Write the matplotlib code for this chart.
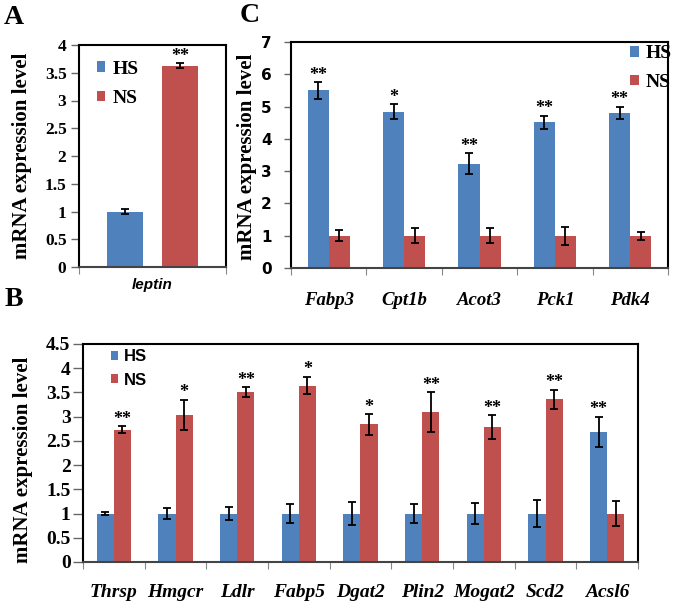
import matplotlib
matplotlib.use('Agg')
import matplotlib.pyplot as plt
import numpy as np

# panel A
a_genes = ['leptin']
a_hs = [1.0]
a_hs_err = [0.05]
a_ns = [3.63]
a_ns_err = [0.04]
a_marks = ['**']

# panel C
c_genes = ['Fabp3', 'Cpt1b', 'Acot3', 'Pck1', 'Pdk4']
c_hs = [5.50, 4.84, 3.23, 4.51, 4.80]
c_hs_err = [0.26, 0.24, 0.32, 0.20, 0.19]
c_ns = [1.0, 1.0, 1.0, 1.0, 1.0]
c_ns_err = [0.17, 0.24, 0.23, 0.28, 0.12]
c_marks = ['**', '*', '**', '**', '**']

# panel B
b_genes = ['Thrsp', 'Hmgcr', 'Ldlr', 'Fabp5', 'Dgat2', 'Plin2', 'Mogat2', 'Scd2', 'Acsl6']
b_hs = [1.0, 1.0, 1.0, 1.0, 1.0, 1.0, 1.0, 1.0, 2.69]
b_hs_err = [0.04, 0.12, 0.13, 0.20, 0.23, 0.19, 0.21, 0.28, 0.31]
b_ns = [2.73, 3.04, 3.51, 3.64, 2.84, 3.10, 2.78, 3.36, 1.0]
b_ns_err = [0.07, 0.31, 0.10, 0.18, 0.21, 0.41, 0.25, 0.20, 0.25]
b_marks = ['**', '*', '**', '*', '*', '**', '**', '**', '**']

BLUE = '#4F81BD'
RED = '#C0504D'
SERIF = 'Liberation Serif'
SANS = 'Liberation Sans'

W, H = 675, 604
fig = plt.figure(figsize=(W / 100, H / 100), dpi=100)


def px_axes(x0, y0, x1, y1):
    return fig.add_axes([x0 / W, 1 - y1 / H, (x1 - x0) / W, (y1 - y0) / H])


def style_axes(ax, n, ymax, ystep, ylabels, tickfont, ticksize, tlen, tpad):
    ax.set_xlim(-0.5, n - 0.5)
    ax.set_ylim(0, ymax)
    for s in ax.spines.values():
        s.set_linewidth(1.5)
        s.set_color('black')
    ax.spines['bottom'].set_color('#444444')
    ax.set_xticks(np.arange(n + 1) - 0.5, labels=[''] * (n + 1))
    ax.set_yticks(np.arange(len(ylabels)) * ystep, labels=ylabels,
                  family=tickfont, fontweight='bold', fontsize=ticksize)
    ax.tick_params(axis='x', which='major', length=5, direction='out', color='#888888')
    ax.tick_params(axis='y', length=tlen, direction='out', width=1, pad=tpad, color='#666666')


def draw_bars(ax, genes, hs, hs_err, ns, ns_err, marks, width, offset, star_on,
              xfont, xsize, xpad):
    x = np.arange(len(genes))
    ekw = dict(ecolor='black', elinewidth=1.3, capsize=3, capthick=1.3)
    ax.bar(x - offset, hs, width, yerr=hs_err, color=BLUE, error_kw=ekw, label='HS', zorder=2)
    ax.bar(x + offset, ns, width, yerr=ns_err, color=RED, error_kw=ekw, label='NS', zorder=2)
    for i, m in enumerate(marks):
        if star_on[i] == 'hs':
            xs, top = x[i] - offset, hs[i] + hs_err[i]
        else:
            xs, top = x[i] + offset, ns[i] + ns_err[i]
        ax.annotate(m, (xs, top), xytext=(0, 5), textcoords='offset points',
                    ha='center', va='center', fontsize=13, fontweight='bold', family=SERIF)
    ax.set_xticks(x, labels=genes, minor=True, family=xfont, fontweight='bold',
                  style='italic', fontsize=xsize)
    ax.tick_params(axis='x', which='minor', length=0, pad=xpad)


leg_kw = dict(frameon=False, handlelength=0.45, handleheight=0.45, handletextpad=0.35,
              borderaxespad=0, borderpad=0)

# ---- A ----
axA = px_axes(79, 45, 226, 267)
style_axes(axA, 1, 4, 0.5, ['0', '0.5', '1', '1.5', '2', '2.5', '3', '3.5', '4'],
           SERIF, 12.5, 6, 3)
draw_bars(axA, a_genes, a_hs, a_hs_err, a_ns, a_ns_err, a_marks, 0.245, 0.187, ['ns'],
          SANS, 11, 8)
axA.set_ylabel('mRNA expression level', family=SERIF, fontweight='bold', fontsize=15)
axA.yaxis.set_label_coords(-0.32, 0.5)
axA.legend(loc='upper left', bbox_to_anchor=(0.12, 0.93),
           prop={'family': SERIF, 'weight': 'bold', 'size': 14}, labelspacing=0.65, **leg_kw)

# ---- C ----
axC = px_axes(291, 42, 668, 268)
style_axes(axC, 5, 7, 1, [str(v) for v in range(8)], 'DejaVu Sans', 11, 5, 9)
draw_bars(axC, c_genes, c_hs, c_hs_err, c_ns, c_ns_err, c_marks, 0.28, 0.14, ['hs'] * 5,
          SERIF, 13.5, 17)
axC.set_ylabel('mRNA expression level', family=SERIF, fontweight='bold', fontsize=15)
axC.yaxis.set_label_coords(-0.09, 0.49)
axC.legend(loc='upper left', bbox_to_anchor=(0.9, 0.985),
           prop={'family': SERIF, 'weight': 'bold', 'size': 14}, labelspacing=0.6, **leg_kw)

# ---- B ----
axB = px_axes(83, 344, 638, 562)
style_axes(axB, 9, 4.5, 0.5, ['0', '0.5', '1', '1.5', '2', '2.5', '3', '3.5', '4', '4.5'],
           SERIF, 14, 7, 2)
draw_bars(axB, b_genes, b_hs, b_hs_err, b_ns, b_ns_err, b_marks, 0.28, 0.14,
          ['ns'] * 8 + ['hs'], SERIF, 14, 16)
axB.set_ylabel('mRNA expression level', family=SERIF, fontweight='bold', fontsize=15)
axB.yaxis.set_label_coords(-0.09, 0.47)
axB.legend(loc='upper left', bbox_to_anchor=(0.05, 0.975),
           prop={'family': SANS, 'weight': 'bold', 'size': 12}, labelspacing=0.5, **leg_kw)

# panel letters
for letter, x, y in [('A', 4, 17), ('C', 240, 16), ('B', 5, 300)]:
    fig.text(x / W, 1 - y / H, letter, family=SERIF, fontweight='bold', fontsize=20,
             va='center', ha='left')

fig.savefig('out.png', dpi=100)
